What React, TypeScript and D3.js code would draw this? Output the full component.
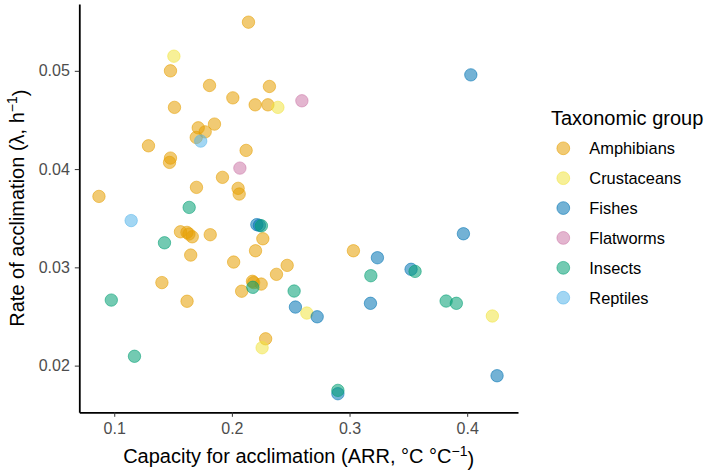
import React, { useEffect, useRef } from "react";
import * as d3 from "d3";

// taxonomic groups and their colours (Okabe-Ito)
const groups = ["Amphibians", "Crustaceans", "Fishes", "Flatworms", "Insects", "Reptiles"];
const groupColors = ["#E69F00", "#F0E442", "#0072B2", "#CC79A7", "#009E73", "#56B4E9"];

// capacity for acclimation (ARR) and rate of acclimation (lambda) per group
const amphibiansARR = [
  0.2141, 0.1478, 0.181, 0.2319, 0.2008, 0.2198, 0.2306, 0.1512, 0.1852, 0.1714, 0.1773, 0.1697, 0.1291,
  0.2121, 0.1478, 0.147, 0.192, 0.1699, 0.2053, 0.2062, 0.087, 0.1563, 0.1618, 0.1635, 0.1663, 0.1816,
  0.2263, 0.2201, 0.165, 0.2015, 0.247, 0.2379, 0.1405, 0.2175, 0.2185, 0.2249, 0.2083, 0.1619, 0.3033,
  0.2287,
];
const amphibiansRate = [
  0.05495, 0.05, 0.04851, 0.04841, 0.04725, 0.04654, 0.04654, 0.04628, 0.04458, 0.0442, 0.04379, 0.04322,
  0.04237, 0.0419, 0.04112, 0.04068, 0.03916, 0.03814, 0.03804, 0.03746, 0.03722, 0.03362, 0.03356,
  0.03339, 0.03311, 0.03332, 0.03291, 0.03169, 0.03125, 0.03054, 0.0302, 0.02929, 0.02845, 0.02858,
  0.02845, 0.0283, 0.02757, 0.02655, 0.03169, 0.02273,
];
const crustaceansARR = [0.1507, 0.2391, 0.2637, 0.2257, 0.4214];
const crustaceansRate = [0.05149, 0.04628, 0.02535, 0.02182, 0.02505];
const fishesARR = [0.4031, 0.3968, 0.2212, 0.2234, 0.3237, 0.3523, 0.3178, 0.254, 0.2725, 0.4254, 0.2901];
const fishesRate = [0.04959, 0.03342, 0.03435, 0.03427, 0.03098, 0.0298, 0.02634, 0.02596, 0.02497, 0.01897, 0.01714];
const flatwormsARR = [0.2595, 0.2068];
const flatwormsRate = [0.04695, 0.0401];
const insectsARR = [0.1637, 0.2251, 0.1427, 0.0975, 0.1172, 0.2178, 0.2529, 0.3181, 0.3557, 0.3821, 0.3908, 0.2901];
const insectsRate = [0.0361, 0.03423, 0.0325, 0.02667, 0.02095, 0.02797, 0.02759, 0.02915, 0.02959, 0.02657, 0.02634, 0.01748];
const reptilesARR = [0.1735, 0.1144];
const reptilesRate = [0.04285, 0.03476];

const xTicks = [0.1, 0.2, 0.3, 0.4];
const yTicks = [0.02, 0.03, 0.04, 0.05];

const seriesARR = [amphibiansARR, crustaceansARR, fishesARR, flatwormsARR, insectsARR, reptilesARR];
const seriesRate = [amphibiansRate, crustaceansRate, fishesRate, flatwormsRate, insectsRate, reptilesRate];

const WIDTH = 709;
const HEIGHT = 472;
const FONT = "'Liberation Sans', Arial, Helvetica, sans-serif";

export default function App() {
  const svgRef = useRef<SVGSVGElement | null>(null);

  useEffect(() => {
    if (!svgRef.current) return;
    const svg = d3.select(svgRef.current);
    svg.selectAll("*").remove();

    const panel = { left: 79.3, right: 518, top: 4, bottom: 412.3 };

    const x = d3.scaleLinear().domain([0.0703, 0.4432]).range([panel.left, panel.right]);
    const y = d3.scaleLinear().domain([0.01525, 0.0568]).range([panel.bottom, panel.top]);

    // points
    const pts = svg.append("g");
    groups.forEach((g, gi) => {
      const data = seriesARR[gi].map((v, i) => ({ x: v, y: seriesRate[gi][i] }));
      pts
        .selectAll(null)
        .data(data)
        .enter()
        .append("circle")
        .attr("cx", (d) => x(d.x))
        .attr("cy", (d) => y(d.y))
        .attr("r", 6.2)
        .attr("fill", groupColors[gi])
        .attr("fill-opacity", 0.55)
        .attr("stroke", groupColors[gi])
        .attr("stroke-opacity", 0.55)
        .attr("stroke-width", 1);
    });

    // x axis
    const xAxis = d3
      .axisBottom(x)
      .tickValues(xTicks)
      .tickSize(4.5)
      .tickSizeOuter(0)
      .tickPadding(6)
      .tickFormat(d3.format(".1f") as any);
    const gx = svg.append("g").attr("transform", `translate(0,${panel.bottom})`).call(xAxis);
    gx.select(".domain").attr("stroke", "#000").attr("stroke-width", 1.8);
    gx.selectAll(".tick line").attr("stroke", "#333").attr("stroke-width", 1);
    gx.selectAll(".tick text").attr("fill", "#4D4D4D").attr("font-size", 16).attr("font-family", FONT);

    // y axis
    const yAxis = d3
      .axisLeft(y)
      .tickValues(yTicks)
      .tickSize(4.5)
      .tickSizeOuter(0)
      .tickPadding(5)
      .tickFormat(d3.format(".2f") as any);
    const gy = svg.append("g").attr("transform", `translate(${panel.left},0)`).call(yAxis);
    gy.select(".domain").attr("stroke", "#000").attr("stroke-width", 1.8);
    gy.selectAll(".tick line").attr("stroke", "#333").attr("stroke-width", 1);
    gy.selectAll(".tick text").attr("fill", "#4D4D4D").attr("font-size", 16).attr("font-family", FONT);

    // axis titles
    const xt = svg
      .append("text")
      .attr("x", (panel.left + panel.right) / 2)
      .attr("y", 463)
      .attr("text-anchor", "middle")
      .attr("font-size", 20)
      .attr("font-family", FONT)
      .attr("fill", "#000");
    xt.append("tspan").text("Capacity for acclimation (ARR, °C °C");
    xt.append("tspan").attr("dy", "-0.5em").attr("font-size", 14).text("−1");
    xt.append("tspan").attr("dy", "0.5em").text(")");

    const yt = svg
      .append("text")
      .attr("transform", `translate(24,${(panel.top + panel.bottom) / 2}) rotate(-90)`)
      .attr("text-anchor", "middle")
      .attr("font-size", 20)
      .attr("font-family", FONT)
      .attr("fill", "#000");
    yt.append("tspan").text("Rate of acclimation (λ, h");
    yt.append("tspan").attr("dy", "-0.5em").attr("font-size", 14).text("−1");
    yt.append("tspan").attr("dy", "0.5em").text(")");

    // legend
    const lg = svg.append("g");
    lg.append("text")
      .attr("x", 551)
      .attr("y", 124.5)
      .attr("font-size", 20)
      .attr("font-family", FONT)
      .attr("fill", "#000")
      .text("Taxonomic group");
    const row = d3.scalePoint().domain(groups).range([148.3, 297.7]);
    groups.forEach((g, gi) => {
      lg.append("circle")
        .attr("cx", 563.3)
        .attr("cy", row(g)!)
        .attr("r", 6.4)
        .attr("fill", groupColors[gi])
        .attr("fill-opacity", 0.55)
        .attr("stroke", groupColors[gi])
        .attr("stroke-opacity", 0.55)
        .attr("stroke-width", 1);
      lg.append("text")
        .attr("x", 589.3)
        .attr("y", row(g)!)
        .attr("dy", "0.36em")
        .attr("font-size", 16.4)
        .attr("font-family", FONT)
        .attr("fill", "#000")
        .text(g);
    });
  }, []);

  return (
    <svg
      ref={svgRef}
      width={WIDTH}
      height={HEIGHT}
      style={{ display: "block", position: "absolute", left: 0, top: 0, background: "#fff" }}
    />
  );
}
